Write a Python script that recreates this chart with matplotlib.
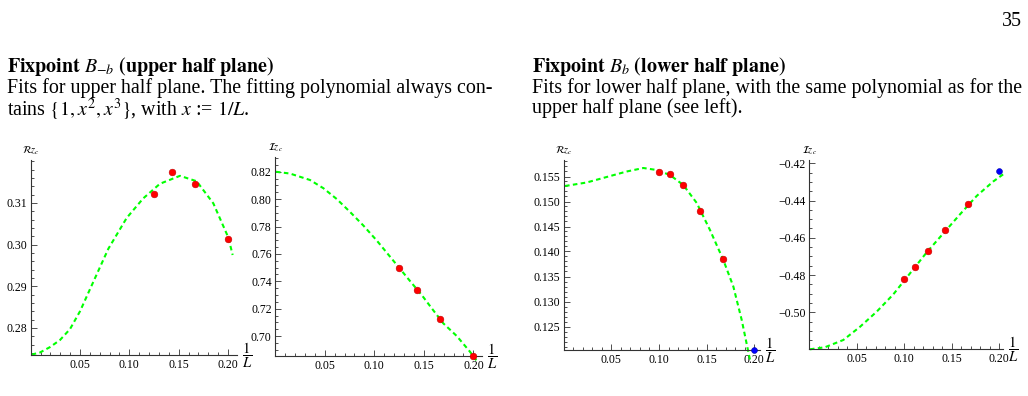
import matplotlib
matplotlib.use("Agg")
import matplotlib.pyplot as plt
from matplotlib.ticker import AutoMinorLocator, FormatStrFormatter, FuncFormatter


# Lattice sizes of the fits; the horizontal axis is x = 1/L.
L_UPPER = [8, 7, 6, 5]
L_LOWER = [10, 9, 8, 7, 6]
L_EXCLUDED = [5]

# Fixpoint B_{-b}, upper half plane
RE_UP_PTS = [0.3122, 0.3175, 0.3145, 0.3014]
RE_UP_CURVE_X = [0.001, 0.0094, 0.0196, 0.0297, 0.0398, 0.05, 0.0601, 0.0787,
                 0.0973, 0.1141, 0.131, 0.1513, 0.1682, 0.1851, 0.2003, 0.2047]
RE_UP_CURVE_Y = [0.2736, 0.2741, 0.2754, 0.2771, 0.2797, 0.2840, 0.2893, 0.2990,
                 0.3064, 0.3111, 0.3146, 0.3165, 0.3152, 0.3099, 0.3017, 0.2975]

IM_UP_PTS = [0.7497, 0.7339, 0.7122, 0.6854]
IM_UP_CURVE_X = [0.0008, 0.0149, 0.0351, 0.0486, 0.0621, 0.0755, 0.0889, 0.1025,
                 0.1125, 0.125, 0.1361, 0.1479, 0.158, 0.1697, 0.1832, 0.1966, 0.204]
IM_UP_CURVE_Y = [0.8200, 0.8187, 0.8140, 0.8080, 0.8001, 0.7907, 0.7808, 0.7698,
                 0.7610, 0.7500, 0.7402, 0.7300, 0.7203, 0.7093, 0.7001, 0.6886, 0.6813]

# Fixpoint B_b, lower half plane
RE_LO_PTS = [0.1560, 0.1555, 0.1533, 0.1482, 0.1385]
RE_LO_EXCL = [0.1203]
RE_LO_CURVE_X = [0.0014, 0.0241, 0.0451, 0.0661, 0.0836, 0.0976, 0.1115, 0.1255,
                 0.1396, 0.1535, 0.1675, 0.178, 0.1868, 0.1955]
RE_LO_CURVE_Y = [0.1531, 0.1538, 0.1549, 0.1560, 0.1567, 0.1563, 0.1553, 0.1533,
                 0.1497, 0.1443, 0.1383, 0.1330, 0.1263, 0.1183]

IM_LO_PTS = [-0.4823, -0.4755, -0.4670, -0.4560, -0.4421]
IM_LO_EXCL = [-0.4241]
IM_LO_CURVE_X = [0.0007, 0.0165, 0.0358, 0.0534, 0.0709, 0.0884, 0.106, 0.1236,
                 0.1411, 0.1586, 0.1762, 0.1937, 0.2065]
IM_LO_CURVE_Y = [-0.5199, -0.5188, -0.5149, -0.5078, -0.4997, -0.4904, -0.4791, -0.4678,
                 -0.4576, -0.4474, -0.4375, -0.4297, -0.4250]

X_TICKS = [0.05, 0.10, 0.15, 0.20]
RE_UP_TICKS = [0.28, 0.29, 0.30, 0.31]
IM_UP_TICKS = [0.70, 0.72, 0.74, 0.76, 0.78, 0.80, 0.82]
RE_LO_TICKS = [0.125, 0.130, 0.135, 0.140, 0.145, 0.150, 0.155]
IM_LO_TICKS = [-0.50, -0.48, -0.46, -0.44, -0.42]

LEFT_TEXT = [
    r"$\mathbf{Fixpoint}\ B_{-b}\ \mathbf{(upper\ half\ plane)}$",
    "Fits for upper half plane. The fitting polynomial always con-",
    r"tains $\{1, x^2, x^3\}$, with $x$ := $1/L$.",
]
RIGHT_TEXT = [
    r"$\mathbf{Fixpoint}\ B_b\ \mathbf{(lower\ half\ plane)}$",
    "Fits for lower half plane, with the same polynomial as for the",
    "upper half plane (see left).",
]

FIG_W, FIG_H = 1028, 396
AXIS_COLOR = "#333333"
GREEN = "#00ff00"

plt.rcParams["font.family"] = ["Liberation Serif", "DejaVu Serif"]
plt.rcParams["mathtext.fontset"] = "stix"


def inv(ls):
    return [1.0 / l for l in ls]


def fx(px):
    return px / FIG_W


def fy(py):
    return 1.0 - py / FIG_H


def minus_fmt(fmt):
    # proper typographic minus like the original figure
    return FuncFormatter(lambda v, pos: (fmt % v).replace("-", "\u2212"))


def draw_panel(fig, box, xlim, ylim, yticks, yfmt, yminor, ylabel,
               curve_x, curve_y, pts_x, pts_y, excl_x=None, excl_y=None):
    left, right, bottom, top = box
    ax = fig.add_axes([fx(left), fy(bottom), (right - left) / FIG_W, (bottom - top) / FIG_H])
    ax.set_xlim(xlim)
    ax.set_ylim(ylim)
    ax.patch.set_visible(False)
    for s in ("top", "right"):
        ax.spines[s].set_visible(False)
    for s in ("left", "bottom"):
        ax.spines[s].set_color(AXIS_COLOR)
        ax.spines[s].set_linewidth(0.8)

    ax.plot(curve_x, curve_y, color=GREEN, lw=1.5, ls=(0, (2.2, 1.6)),
            clip_on=False, zorder=2)
    ax.plot(pts_x, pts_y, "o", color="#ff0000", ms=4.8, mec="#c00000", mew=0.4,
            clip_on=False, zorder=4)
    if excl_x is not None:
        ax.plot(excl_x, excl_y, "o", color="#0000ff", ms=4.2, mec="#0000aa", mew=0.4,
                clip_on=False, zorder=4)

    ax.set_xticks(X_TICKS)
    ax.xaxis.set_major_formatter(FormatStrFormatter("%.2f"))
    ax.xaxis.set_minor_locator(AutoMinorLocator(5))
    ax.set_yticks(yticks)
    ax.yaxis.set_major_formatter(minus_fmt(yfmt))
    ax.yaxis.set_minor_locator(AutoMinorLocator(yminor))
    ax.tick_params(which="both", direction="in", colors=AXIS_COLOR, labelcolor="black",
                   labelsize=8.5, width=0.6)
    ax.tick_params(which="major", length=4)
    ax.tick_params(which="minor", length=2.2)
    ax.tick_params(axis="x", pad=3)
    ax.tick_params(axis="y", pad=2.5)

    fig.text(fx(left), fy(top - 9), ylabel, ha="center", va="center", fontsize=7.5)
    fig.text(fx(right + 5), fy(bottom), r"$\dfrac{1}{L}$", ha="left", va="center",
             fontsize=10.5)
    return ax


def main() -> None:
    fig = plt.figure(figsize=(FIG_W / 100, FIG_H / 100), dpi=100)

    body = 14.4
    fig.text(fx(1022), fy(26), "35", ha="right", va="baseline", fontsize=body)

    # each column is one paragraph: bold heading line plus two text lines
    fig.text(fx(7), fy(55), "\n".join(LEFT_TEXT), ha="left", va="top",
             fontsize=body, linespacing=0.98)
    fig.text(fx(532), fy(55.5), "\n".join(RIGHT_TEXT), ha="left", va="top",
             fontsize=body, linespacing=0.98)

    draw_panel(fig, (30.7, 236.9, 355, 160), (0, 0.209), (0.2735, 0.3203),
               RE_UP_TICKS, "%.2f", 5, r"$\mathcal{R}z_c$",
               RE_UP_CURVE_X, RE_UP_CURVE_Y, inv(L_UPPER), RE_UP_PTS)
    draw_panel(fig, (275.2, 481.8, 356, 156.7), (0, 0.2085), (0.6855, 0.831),
               IM_UP_TICKS, "%.2f", 4, r"$\mathcal{I}z_c$",
               IM_UP_CURVE_X, IM_UP_CURVE_Y, inv(L_UPPER), IM_UP_PTS)
    draw_panel(fig, (563.7, 760.4, 350, 160), (0, 0.2064), (0.1203, 0.1583),
               RE_LO_TICKS, "%.3f", 5, r"$\mathcal{R}z_c$",
               RE_LO_CURVE_X, RE_LO_CURVE_Y, inv(L_LOWER), RE_LO_PTS,
               inv(L_EXCLUDED), RE_LO_EXCL)
    draw_panel(fig, (809.3, 1003.3, 349.3, 160), (0, 0.2042), (-0.5199, -0.4182),
               IM_LO_TICKS, "%.2f", 4, r"$\mathcal{I}z_c$",
               IM_LO_CURVE_X, IM_LO_CURVE_Y, inv(L_LOWER), IM_LO_PTS,
               inv(L_EXCLUDED), IM_LO_EXCL)

    fig.savefig("out.png", dpi=100)
    plt.close(fig)


if __name__ == "__main__":
    main()
